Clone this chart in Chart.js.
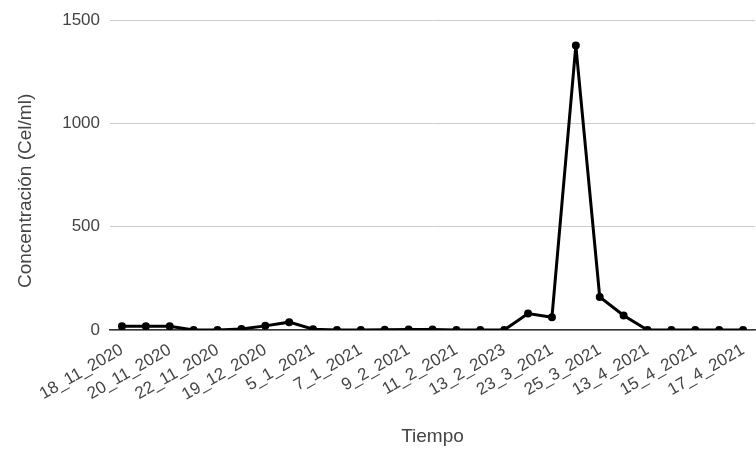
<!DOCTYPE html>
<html>
<head>
<meta charset="utf-8">
<script src="https://cdn.jsdelivr.net/npm/chart.js@4"></script>
<style>
  html, body { margin:0; padding:0; background:#fff; overflow:hidden; }
  #wrap { width:762px; height:451px; }
</style>
</head>
<body>
<div id="wrap"><canvas id="lineChart" width="762" height="451"></canvas></div>
<script>
const fechas = ['18_11_2020','19_11_2020','20_11_2020','21_11_2020','22_11_2020','18_12_2020','19_12_2020',
  '4_1_2021','5_1_2021','6_1_2021','7_1_2021','8_2_2021','9_2_2021','10_2_2021','11_2_2021','12_2_2021',
  '13_2_2023','22_3_2021','23_3_2021','24_3_2021','25_3_2021','12_4_2021','13_4_2021','14_4_2021',
  '15_4_2021','16_4_2021','17_4_2021'];
const concentracion = [18, 18, 18, 0, 0, 5, 20, 38, 4, 0, 0, 1, 2, 3, 0, 0, 0, 80, 62, 1377, 160, 70, 0, 0, 0, 0, 0];
const yTicks = [0, 500, 1000, 1500];

const tickFont = { family: 'Liberation Sans, Arial, sans-serif', size: 17 };
const titleFont = { family: 'Liberation Sans, Arial, sans-serif', size: 19 };
const ctx = document.getElementById('lineChart').getContext('2d');
new Chart(ctx, {
  type: 'line',
  data: {
    labels: fechas,
    datasets: [{
      data: concentracion,
      borderColor: '#000',
      backgroundColor: '#000',
      borderWidth: 3,
      pointRadius: 2.5,
      pointBackgroundColor: '#000',
      pointBorderColor: '#000',
      tension: 0
    }]
  },
  options: {
    responsive: false,
    animation: false,
    layout: { padding: { top: 18, left: 10, right: 0, bottom: 0 } },
    plugins: { legend: { display: false }, tooltip: { enabled: false } },
    scales: {
      x: {
        offset: true,
        grid: { display: false },
        border: { color: '#333', width: 1.5 },
        ticks: {
          autoSkip: false, minRotation: 30, maxRotation: 30, color: '#444', font: tickFont, padding: 2,
          callback: function(v, i) { return i % 2 === 0 ? fechas[i] : ''; }
        },
        title: { display: true, text: 'Tiempo', color: '#444', font: titleFont, padding: { top: 10, bottom: 3 } },
        afterFit: function(s) { s.height = 121; }
      },
      y: {
        min: 0, max: 1500,
        afterBuildTicks: function(s) { s.ticks = yTicks.map(v => ({ value: v })); },
        grid: { color: '#ccc', drawTicks: false },
        border: { display: false },
        ticks: { color: '#444', font: tickFont, padding: 10, callback: v => String(v) },
        // trailing spaces nudge the centred title down a little
        title: { display: true, text: 'Concentración (Cel/ml)      ', color: '#444', font: titleFont },
        afterFit: function(s) { s.width = 100; }
      }
    }
  }
});
</script>
</body>
</html>
